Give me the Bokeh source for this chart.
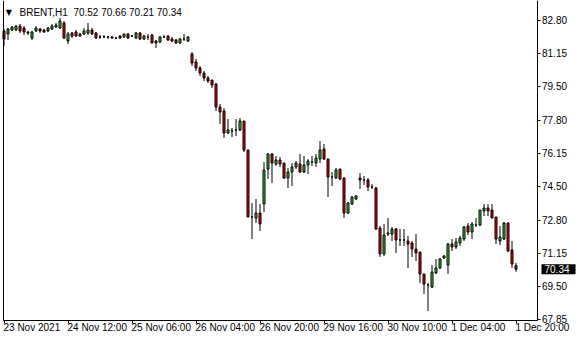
from bokeh.plotting import figure
from bokeh.models import Range1d, LinearAxis, FixedTicker, Label, ColumnDataSource
from bokeh.embed import file_html
from bokeh.resources import INLINE

# ---- data (BRENT H1) ----
opens = [82.25, 82.10, 82.30, 82.30, 82.50, 82.40, 82.20, 81.90, 82.25, 82.35,
         82.30, 82.25, 82.35, 82.45, 82.40, 82.65, 81.75, 82.15, 82.20, 82.00,
         82.10, 82.15, 82.30, 82.15, 81.95, 81.95, 81.95, 81.95, 81.90, 82.00,
         81.95, 82.10, 82.00, 81.90, 82.15, 81.85, 81.95, 82.05, 81.65, 81.70,
         81.95, 82.00, 81.85, 81.80, 81.65, 81.85, 81.75, 81.10, 80.70, 80.40,
         80.15, 79.90, 79.80, 79.60, 78.45, 78.25, 77.15, 77.25, 77.30, 77.30,
         77.75, 76.30, 72.95, 72.90, 73.15, 73.60, 75.35, 76.10, 75.60, 75.80,
         75.65, 74.90, 75.20, 75.45, 75.60, 75.20, 75.55, 75.70, 75.65, 75.85,
         76.35, 75.85, 74.95, 74.90, 75.35, 74.90, 73.15, 73.60, 73.85, 74.90,
         74.80, 74.80, 74.45, 74.40, 72.40, 71.10, 72.10, 72.10, 72.35, 71.80,
         71.80, 71.75, 71.65, 71.35, 71.20, 70.10, 69.55, 69.45, 70.15, 70.40,
         70.90, 70.55, 71.60, 71.45, 71.65, 71.85, 72.50, 72.20, 72.55, 72.55,
         73.25, 73.40, 73.30, 72.95, 71.75, 71.85, 72.65, 71.30, 70.52]
highs = [82.35, 82.40, 82.50, 82.55, 82.60, 82.50, 82.25, 82.25, 82.50, 82.40,
         82.35, 82.45, 82.60, 82.65, 82.90, 82.75, 82.20, 82.20, 82.30, 82.15,
         82.40, 82.65, 82.40, 82.20, 82.05, 82.05, 82.00, 82.00, 81.95, 82.05,
         82.10, 82.15, 82.05, 82.20, 82.20, 82.05, 82.10, 82.10, 81.80, 82.00,
         82.05, 82.05, 81.95, 81.85, 81.90, 82.10, 82.00, 81.20, 80.85, 80.50,
         80.25, 80.00, 79.80, 79.65, 78.60, 78.40, 77.85, 77.40, 77.85, 77.90,
         77.75, 76.30, 73.65, 73.85, 73.60, 75.70, 76.15, 76.15, 76.00, 75.95,
         75.65, 75.40, 75.65, 75.75, 76.10, 76.00, 75.85, 76.00, 76.10, 76.75,
         76.60, 75.85, 75.20, 75.40, 75.35, 74.95, 73.70, 74.00, 74.05, 75.15,
         75.00, 74.90, 74.60, 74.45, 72.50, 72.60, 72.90, 72.45, 72.40, 72.35,
         72.35, 72.00, 71.75, 72.10, 71.20, 70.10, 69.65, 70.55, 70.85, 70.90,
         71.05, 71.65, 71.85, 71.90, 72.00, 72.50, 72.65, 72.70, 72.90, 73.30,
         73.60, 73.60, 73.60, 72.95, 72.50, 72.70, 72.65, 71.75, 70.66]
lows = [81.50, 81.80, 82.25, 82.25, 82.15, 82.05, 82.05, 81.80, 82.20, 82.15,
        82.15, 82.20, 82.30, 82.40, 82.35, 81.85, 81.60, 81.90, 81.95, 81.95,
        82.05, 82.05, 82.05, 81.85, 81.85, 81.90, 81.85, 81.85, 81.85, 81.85,
        81.90, 81.85, 81.95, 81.85, 81.80, 81.80, 81.80, 81.65, 81.40, 81.65,
        81.90, 81.75, 81.70, 81.60, 81.60, 81.75, 81.70, 80.50, 80.25, 80.00,
        79.75, 79.65, 79.40, 78.25, 77.60, 76.90, 77.10, 76.95, 77.00, 77.25,
        76.20, 72.95, 71.85, 72.65, 72.25, 73.20, 74.85, 74.65, 75.50, 75.45,
        74.85, 74.40, 74.50, 75.35, 75.15, 75.15, 75.10, 75.50, 75.45, 75.65,
        75.80, 73.95, 74.50, 74.85, 74.80, 72.90, 73.10, 73.55, 73.80, 74.35,
        74.55, 74.25, 74.35, 72.30, 70.95, 71.00, 72.00, 71.75, 71.15, 71.50,
        71.50, 70.40, 70.95, 70.75, 69.65, 69.10, 68.25, 69.40, 70.10, 70.35,
        70.85, 70.10, 71.25, 71.35, 71.50, 71.75, 72.05, 71.85, 72.45, 72.50,
        73.00, 73.00, 72.90, 71.60, 71.55, 71.80, 71.20, 70.40, 70.21]
closes = [81.85, 82.35, 82.45, 82.50, 82.25, 82.20, 82.15, 82.20, 82.40, 82.25,
          82.20, 82.40, 82.50, 82.55, 82.75, 81.90, 82.10, 82.00, 82.00, 82.10,
          82.25, 82.30, 82.10, 81.90, 81.95, 81.95, 81.95, 81.90, 81.90, 81.90,
          82.10, 81.90, 82.00, 82.15, 81.85, 82.00, 81.95, 81.65, 81.75, 81.95,
          81.95, 81.80, 81.75, 81.65, 81.85, 81.85, 81.95, 80.65, 80.40, 80.15,
          79.90, 79.75, 79.55, 78.45, 78.20, 77.15, 77.30, 77.25, 77.30, 77.75,
          76.30, 72.95, 72.95, 73.15, 72.60, 75.30, 76.10, 75.65, 75.80, 75.60,
          74.90, 75.20, 75.45, 75.65, 75.20, 75.55, 75.75, 75.70, 75.90, 76.30,
          75.85, 74.95, 74.95, 75.30, 74.85, 73.15, 73.65, 73.95, 74.00, 74.80,
          74.80, 74.45, 74.45, 72.35, 71.10, 72.05, 72.15, 72.35, 71.80, 71.80,
          71.80, 71.60, 71.35, 71.15, 70.10, 69.60, 69.55, 70.20, 70.40, 70.85,
          71.00, 71.60, 71.45, 71.70, 71.90, 72.45, 72.20, 72.60, 72.55, 73.30,
          73.40, 73.25, 72.90, 71.85, 71.95, 72.65, 71.25, 70.60, 70.34]

price_ticks = [82.80, 81.15, 79.50, 77.80, 76.15, 74.50, 72.80, 71.15, 69.50, 67.85]
time_tick_bars = [0, 16, 32, 48, 64, 80, 96, 112, 128]
time_tick_labels = ["23 Nov 2021", "24 Nov 12:00", "25 Nov 06:00", "26 Nov 04:00",
                    "26 Nov 20:00", "29 Nov 16:00", "30 Nov 10:00", "1 Dec 04:00",
                    "1 Dec 20:00"]
symbol = "BRENT,H1"
bid = 70.34

FONT = "Liberation Sans"
UP, DOWN = "#32cd32", "#ff0000"

# chart area edges (data units); the frame covers the whole canvas
X_LEFT, X_RIGHT = -0.25, 133.25      # left border / price-scale line
Y_BOTTOM, Y_TOP = 67.80, 83.775      # time-scale line / top

idx = list(range(len(opens)))
colors = [UP if c > o else (DOWN if c < o else "black") for o, c in zip(opens, closes)]
src = ColumnDataSource(dict(
    x=idx, o=opens, h=highs, l=lows, c=closes,
    top=[max(o, c) for o, c in zip(opens, closes)],
    bottom=[min(o, c) for o, c in zip(opens, closes)],
    color=colors))

p = figure(width=580, height=340, output_backend="svg", toolbar_location=None,
           x_range=Range1d(-0.875, 144.125), y_range=Range1d(66.775, 83.775),
           x_axis_location=None, y_axis_location=None,
           min_border_left=0, min_border_top=0, min_border_right=0, min_border_bottom=0)
p.grid.visible = False
p.outline_line_color = None
p.background_fill_color = "white"
p.border_fill_color = "white"

p.segment(x0="x", y0="h", x1="x", y1="l", source=src, line_color="black", line_width=1)
p.vbar(x="x", top="top", bottom="bottom", width=0.5, source=src,
       fill_color="color", line_color="black", line_width=1)

# price scale on the right
yaxis = LinearAxis(ticker=FixedTicker(ticks=price_ticks), fixed_location=X_RIGHT,
                   bounds=(Y_BOTTOM, Y_TOP))
yaxis.major_label_overrides = {t: f"{t:.2f}" for t in price_ticks}
yaxis.axis_line_color = "black"
yaxis.major_tick_in = 0
yaxis.major_tick_out = 3
yaxis.minor_tick_line_color = None
yaxis.major_label_standoff = 2
yaxis.major_label_text_font = FONT
yaxis.major_label_text_font_size = "10px"
yaxis.major_label_text_color = "black"
p.add_layout(yaxis, "right")

# time scale at the bottom (labels placed left-aligned as in the terminal)
xaxis = LinearAxis(ticker=FixedTicker(ticks=time_tick_bars), fixed_location=Y_BOTTOM,
                   bounds=(X_LEFT, X_RIGHT))
xaxis.axis_line_color = "black"
xaxis.major_tick_in = 0
xaxis.major_tick_out = 3
xaxis.minor_tick_line_color = None
xaxis.major_label_text_alpha = 0
xaxis.major_label_text_font_size = "1px"
p.add_layout(xaxis, "below")

# left border
laxis = LinearAxis(ticker=FixedTicker(ticks=[]), fixed_location=X_LEFT,
                   bounds=(Y_BOTTOM, Y_TOP))
laxis.axis_line_color = "black"
laxis.major_tick_line_color = None
laxis.minor_tick_line_color = None
laxis.major_label_text_alpha = 0
p.add_layout(laxis, "left")

for b, t in zip(time_tick_bars, time_tick_labels):
    p.add_layout(Label(x=b, y=67.425, text=t, text_align="left", text_baseline="middle",
                       x_offset=-0.5, text_font=FONT, text_font_size="10px", text_color="black"))

p.add_layout(Label(x=1.2, y=83.175, text="\u25bc", text_align="center", text_baseline="middle",
                   text_font="DejaVu Sans", text_font_size="8px", text_color="black"))
p.add_layout(Label(x=3.875, y=83.175,
                   text=f"{symbol}\u00a0\u00a0{opens[-1]:.2f} {highs[-1]:.2f} {lows[-1]:.2f} {closes[-1]:.2f}",
                   text_align="left", text_baseline="middle", text_font=FONT,
                   text_font_size="10px", text_color="black"))

p.add_layout(Label(x=134.375, y=bid, text=f"{bid:.2f}", text_align="left", text_baseline="middle",
                   text_font=FONT, text_font_size="10px", text_color="white",
                   background_fill_color="black",
                   padding=dict(left=3, right=6, top=1, bottom=1)))

open("out.html", "w").write(file_html(p, INLINE))
